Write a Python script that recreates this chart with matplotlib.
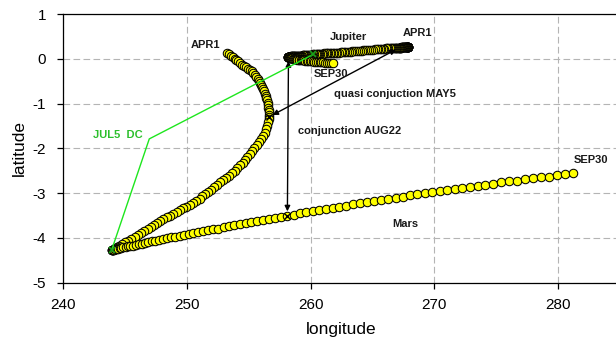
import matplotlib
matplotlib.use('Agg')
import matplotlib.pyplot as plt
import pandas as pd

plt.rcParams['font.family'] = ['Liberation Sans', 'DejaVu Sans']
plt.rcParams['axes.unicode_minus'] = False

# ---------------- data (daily positions, Apr 1 .. Sep 30) ----------------
dates = pd.date_range('2001-04-01', '2001-09-30', freq='D')

mars_lon = [
    253.25, 253.40, 253.55, 253.71, 253.86, 254.01, 254.16, 254.32, 254.47, 254.62,
    254.78, 254.93, 255.09, 255.24, 255.37, 255.49, 255.61, 255.73, 255.85, 255.95,
    256.03, 256.11, 256.19, 256.27, 256.34, 256.39, 256.44, 256.49, 256.55, 256.58,
    256.60, 256.61, 256.63, 256.65, 256.63, 256.61, 256.58, 256.52, 256.43, 256.33,
    256.17, 256.02, 255.84, 255.66, 255.47, 255.28, 255.09, 254.90, 254.72, 254.51,
    254.31, 254.10, 253.90, 253.66, 253.42, 253.19, 252.95, 252.71, 252.47, 252.23,
    251.99, 251.75, 251.51, 251.27, 251.03, 250.77, 250.51, 250.24, 249.97, 249.71,
    249.44, 249.18, 248.91, 248.65, 248.38, 248.12, 247.86, 247.60, 247.35, 247.09,
    246.84, 246.58, 246.32, 246.06, 245.80, 245.53, 245.27, 245.00, 244.75, 244.53,
    244.35, 244.21, 244.09, 244.01, 243.96,
    243.93, 243.94, 243.96, 244.00, 244.06, 244.14, 244.22, 244.33, 244.44, 244.58,
    244.72, 244.88, 245.06, 245.24, 245.44, 245.65, 245.88, 246.11, 246.36, 246.62,
    246.89, 247.17, 247.46, 247.76, 248.08, 248.40, 248.73, 249.07, 249.43, 249.79,
    250.16, 250.53, 250.92, 251.32, 251.72, 252.13, 252.55, 252.98, 253.41, 253.85,
    254.30, 254.76, 255.22, 255.69, 256.17, 256.65, 257.14, 257.63, 258.13, 258.64,
    259.15, 259.67, 260.19, 260.72, 261.26, 261.80, 262.34, 262.89, 263.45, 264.00,
    264.57, 265.14, 265.71, 266.29, 266.87, 267.45, 268.04, 268.63, 269.23, 269.83,
    270.43, 271.04, 271.65, 272.27, 272.89, 273.51, 274.13, 274.76, 275.39, 276.03,
    276.67, 277.31, 277.95, 278.59, 279.24, 279.89, 280.55, 281.20,
]
mars_lat = [
    0.13, 0.10, 0.07, 0.03, 0.00, -0.03, -0.06, -0.09, -0.13, -0.16,
    -0.19, -0.22, -0.25, -0.28, -0.32, -0.36, -0.40, -0.45, -0.49, -0.53,
    -0.58, -0.63, -0.68, -0.73, -0.78, -0.83, -0.88, -0.93, -0.99, -1.04,
    -1.09, -1.14, -1.19, -1.25, -1.30, -1.35, -1.42, -1.49, -1.57, -1.65,
    -1.72, -1.79, -1.86, -1.93, -2.00, -2.06, -2.13, -2.19, -2.26, -2.32,
    -2.38, -2.44, -2.50, -2.55, -2.61, -2.66, -2.71, -2.76, -2.82, -2.87,
    -2.92, -2.97, -3.02, -3.07, -3.12, -3.17, -3.21, -3.26, -3.30, -3.34,
    -3.38, -3.42, -3.46, -3.50, -3.54, -3.58, -3.62, -3.67, -3.71, -3.76,
    -3.80, -3.85, -3.89, -3.93, -3.98, -4.02, -4.06, -4.10, -4.14, -4.17,
    -4.20, -4.22, -4.24, -4.26, -4.27,
    -4.27, -4.27, -4.27, -4.27, -4.26, -4.26, -4.25, -4.25, -4.24, -4.23,
    -4.22, -4.21, -4.20, -4.19, -4.18, -4.17, -4.16, -4.14, -4.13, -4.11,
    -4.10, -4.08, -4.07, -4.05, -4.03, -4.01, -3.99, -3.98, -3.96, -3.94,
    -3.92, -3.90, -3.87, -3.85, -3.83, -3.81, -3.79, -3.76, -3.74, -3.72,
    -3.70, -3.67, -3.65, -3.62, -3.60, -3.58, -3.55, -3.53, -3.50, -3.48,
    -3.45, -3.43, -3.40, -3.38, -3.35, -3.33, -3.30, -3.28, -3.25, -3.23,
    -3.20, -3.18, -3.15, -3.13, -3.10, -3.08, -3.05, -3.03, -3.00, -2.98,
    -2.95, -2.93, -2.90, -2.88, -2.86, -2.83, -2.81, -2.79, -2.76, -2.74,
    -2.72, -2.69, -2.67, -2.65, -2.63, -2.60, -2.58, -2.56,
]

jup_lon = [
    267.88, 267.88, 267.88, 267.87, 267.87, 267.87, 267.86, 267.85, 267.84, 267.83,
    267.82, 267.81, 267.80, 267.78, 267.76, 267.75, 267.73, 267.71, 267.69, 267.67,
    267.64, 267.62, 267.60, 267.57, 267.54, 267.51, 267.48, 267.45, 267.42, 267.39,
    267.35, 267.31, 267.28, 267.24, 267.20,
    267.16, 267.11, 267.06, 267.00, 266.94, 266.88, 266.81, 266.73, 266.65, 266.57,
    266.48, 266.39, 266.29, 266.19, 266.08, 265.97, 265.85, 265.73, 265.61, 265.48,
    265.34, 265.20, 265.06, 264.91, 264.76, 264.60,
    264.44, 264.28, 264.13, 263.98, 263.83, 263.68, 263.53, 263.38, 263.24, 263.10,
    262.96, 262.82, 262.69, 262.56, 262.43, 262.30, 262.17, 262.04, 261.92, 261.80,
    261.68, 261.56, 261.45, 261.34, 261.23, 261.12, 261.01, 260.90, 260.80, 260.70,
    260.60, 260.50, 260.41, 260.32, 260.23,
    260.14, 260.05, 259.96, 259.88, 259.80, 259.72, 259.64, 259.57, 259.50, 259.43,
    259.36, 259.29, 259.22, 259.16, 259.10, 259.04, 258.98, 258.93, 258.88, 258.83,
    258.78, 258.73, 258.68, 258.64, 258.60, 258.56, 258.52, 258.49, 258.46, 258.43,
    258.40, 258.37, 258.34, 258.32, 258.30, 258.28, 258.26, 258.25, 258.24, 258.23,
    258.22, 258.21, 258.20, 258.20, 258.20,
    258.20, 258.21, 258.22, 258.23, 258.25, 258.27, 258.30, 258.33, 258.37, 258.41,
    258.45, 258.50, 258.55, 258.60, 258.66, 258.73, 258.80, 258.87, 258.94, 259.03,
    259.11, 259.20, 259.29, 259.39, 259.49, 259.59, 259.70, 259.82, 259.94, 260.06,
    260.18, 260.31, 260.45, 260.59, 260.73, 260.87, 261.02, 261.18, 261.34, 261.50,
    261.67, 261.84,
]
jup_lat = [
    0.27, 0.27, 0.27, 0.27, 0.27, 0.27, 0.27, 0.27, 0.27, 0.27,
    0.27, 0.27, 0.27, 0.27, 0.27, 0.26, 0.26, 0.26, 0.26, 0.26,
    0.26, 0.26, 0.26, 0.26, 0.26, 0.26, 0.26, 0.26, 0.26, 0.26,
    0.26, 0.25, 0.25, 0.25, 0.25,
    0.25, 0.25, 0.25, 0.25, 0.25, 0.25, 0.24, 0.24, 0.24, 0.24,
    0.24, 0.23, 0.23, 0.23, 0.23, 0.22, 0.22, 0.22, 0.22, 0.21,
    0.21, 0.21, 0.20, 0.20, 0.20, 0.19,
    0.19, 0.19, 0.18, 0.18, 0.18, 0.17, 0.17, 0.17, 0.16, 0.16,
    0.16, 0.15, 0.15, 0.15, 0.15, 0.14, 0.14, 0.14, 0.13, 0.13,
    0.13, 0.13, 0.12, 0.12, 0.12, 0.12, 0.11, 0.11, 0.11, 0.11,
    0.10, 0.10, 0.10, 0.10, 0.10,
    0.09, 0.09, 0.09, 0.09, 0.09, 0.08, 0.08, 0.08, 0.08, 0.08,
    0.08, 0.07, 0.07, 0.07, 0.07, 0.07, 0.07, 0.07, 0.07, 0.06,
    0.06, 0.06, 0.06, 0.06, 0.06, 0.06, 0.06, 0.06, 0.06, 0.06,
    0.05, 0.05, 0.05, 0.05, 0.05, 0.05, 0.05, 0.05, 0.05, 0.05,
    0.05, 0.05, 0.05, 0.05, 0.05,
    0.047, 0.043, 0.040, 0.036, 0.033, 0.029, 0.026, 0.022, 0.019, 0.015,
    0.012, 0.008, 0.005, 0.001, -0.003, -0.006, -0.010, -0.013, -0.017, -0.020,
    -0.024, -0.027, -0.031, -0.034, -0.038, -0.041, -0.045, -0.048, -0.052, -0.055,
    -0.059, -0.062, -0.066, -0.069, -0.073, -0.076, -0.080, -0.083, -0.087, -0.090,
    -0.094, -0.097,
]

x_ticks = [240, 250, 260, 270, 280]
y_ticks = [-5, -4, -3, -2, -1, 0, 1]

d_apr1 = dates.get_loc(pd.Timestamp('2001-04-01'))
d_may5 = dates.get_loc(pd.Timestamp('2001-05-05'))
d_jul5 = dates.get_loc(pd.Timestamp('2001-07-05'))
d_aug22 = dates.get_loc(pd.Timestamp('2001-08-22'))
d_sep30 = dates.get_loc(pd.Timestamp('2001-09-30'))

# ---------------- figure ----------------
W, H = 616, 345
fig = plt.figure(figsize=(W / 100, H / 100), dpi=100)
ax = fig.add_axes([63 / W, 62.3 / H, (619.9 - 63) / W, (331 - 62.3) / H])
ax.set_xlim(240, 285)
ax.set_ylim(-5, 1)
ax.set_xticks(x_ticks)
ax.set_yticks(y_ticks)
ax.grid(True, color='#b4b4b4', linestyle=(0, (6, 3)), linewidth=0.8, zorder=0)
ax.set_axisbelow(True)
for s in ax.spines.values():
    s.set_linewidth(0.9)
    s.set_color('black')
ax.tick_params(direction='out', length=4, width=0.9, labelsize=11, colors='black')
ax.tick_params(axis='x', pad=7)
ax.tick_params(axis='y', pad=8)
ax.set_xlabel('longitude', fontsize=12.5, labelpad=7)
ax.set_ylabel('latitude', fontsize=12.5, labelpad=4)

mk = dict(ls='none', marker='o', ms=6.1, mfc='#ffff00', mec='black', mew=0.75, zorder=3)
ax.plot(mars_lon, mars_lat, **mk)
ax.plot(jup_lon, jup_lat, **mk)

bold = dict(fontsize=8, fontweight='bold', color='#1a1a1a', zorder=6)

# arrows between the two planets
arrow = dict(arrowstyle='<|-|>', color='black', lw=1.0, shrinkA=3, shrinkB=3,
             mutation_scale=8)
for d in (d_may5, d_aug22):
    ax.annotate('', xy=(jup_lon[d], jup_lat[d]), xytext=(mars_lon[d], mars_lat[d]),
                arrowprops=arrow, zorder=5)
    ax.plot(mars_lon[d], mars_lat[d], marker='x', color='black', ms=5, mew=1, zorder=5)

# green JUL5 callout
green_line = '#1ee61e'
green_text = '#2cbf2c'
mpt = ax.transData.transform((mars_lon[d_jul5], mars_lat[d_jul5]))
k = fig.dpi / 72.0
elbow = ax.transData.inverted().transform((mpt[0] + 27.1 * k, mpt[1] + 80 * k))
ax.plot([jup_lon[d_jul5], elbow[0], mars_lon[d_jul5]],
        [jup_lat[d_jul5], elbow[1], mars_lat[d_jul5]],
        color=green_line, lw=1.0, zorder=5)
for lon, lat in ((mars_lon[d_jul5], mars_lat[d_jul5]), (jup_lon[d_jul5], jup_lat[d_jul5])):
    ax.plot(lon, lat, marker='x', color='#1aa01a', ms=5, mew=1.2, zorder=6)
ax.annotate('JUL5  DC', xy=elbow, xytext=(-4.5, 2.5), textcoords='offset points',
            ha='right', va='center', fontsize=8, fontweight='bold', color=green_text)

# date labels
ax.annotate('APR1', xy=(mars_lon[d_apr1], mars_lat[d_apr1]), xytext=(-5, 5.8),
            textcoords='offset points', ha='right', va='center', **bold)
ax.annotate('APR1', xy=(jup_lon[d_apr1], jup_lat[d_apr1]), xytext=(6.5, 9.9),
            textcoords='offset points', ha='center', va='center', **bold)
ax.annotate('SEP30', xy=(jup_lon[d_sep30], jup_lat[d_sep30]), xytext=(-2, -7.9),
            textcoords='offset points', ha='center', va='center', **bold)
ax.annotate('SEP30', xy=(mars_lon[d_sep30], mars_lat[d_sep30]), xytext=(12.7, 9.7),
            textcoords='offset points', ha='center', va='center', **bold)

ax.text(263.07, 0.49, 'Jupiter', ha='center', va='center', **bold)
ax.text(267.64, -3.68, 'Mars', ha='center', va='center', **bold)
ax.text(261.9, -0.79, 'quasi conjuction MAY5', ha='left', va='center', **bold)
ax.text(258.99, -1.61, 'conjunction AUG22', ha='left', va='center', **bold)

fig.savefig('out.png', dpi=100)
